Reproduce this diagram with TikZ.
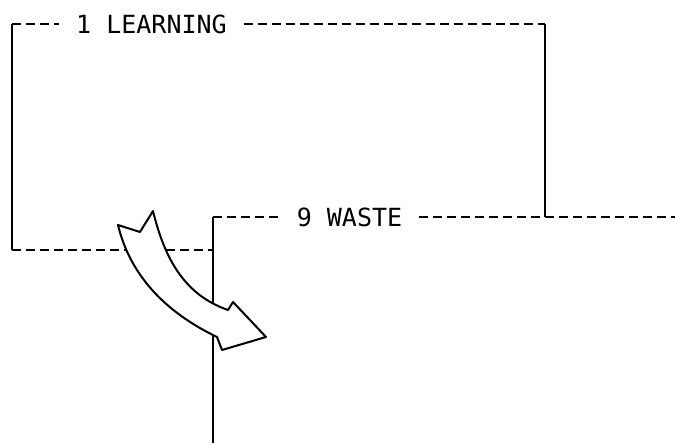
\documentclass[tikz,border=0pt]{standalone}
\usepackage{fontspec}
\setmonofont{DejaVu Sans Mono}
\begin{document}
\begin{tikzpicture}[x=1pt, y=-1pt,
  flowlabel/.style={font=\ttfamily\fontsize{25}{25}\selectfont, inner xsep=17pt, inner ysep=0pt},
  solidline/.style={line width=1.4pt},
  dashline/.style={line width=1.4pt, dash pattern=on 9pt off 5pt},
  bigarrow/.style={line width=2pt, line join=round, fill=white}]
\useasboundingbox (0,0) rectangle (675,443);

\node[flowlabel] (learn) at (151.5,24) {1 LEARNING};
\node[flowlabel] (waste) at (349.5,217) {9 WASTE};

\coordinate (tl) at (12,24);
\coordinate (bl) at (12,250);
\coordinate (tr) at (545,24);
\coordinate (wj) at (545,217);
\coordinate (wc) at (213,217);
\coordinate (bj) at (213,250);
\coordinate (bot) at (213,443);
\coordinate (wend) at (675,217);

\draw[solidline] (tl) -- (bl);
\draw[dashline] (tl) -- (learn.west);
\draw[dashline] (learn.east) -- (tr);
\draw[solidline] (tr) -- (wj);
\draw[dashline] (bl) -- (bj);
\draw[solidline] (wc) -- (bot);
\draw[dashline] (wc) -- (waste.west);
\draw[dashline] (waste.east) -- (wend);

\draw[bigarrow] (118,225) -- (140,232) -- (153,211)
  .. controls (165,260) and (185,295) .. (228,310)
  -- (233,302) -- (266,337) -- (222,350) -- (217,337)
  .. controls (165,312) and (130,275) .. (118,225) -- cycle;
\end{tikzpicture}
\end{document}
